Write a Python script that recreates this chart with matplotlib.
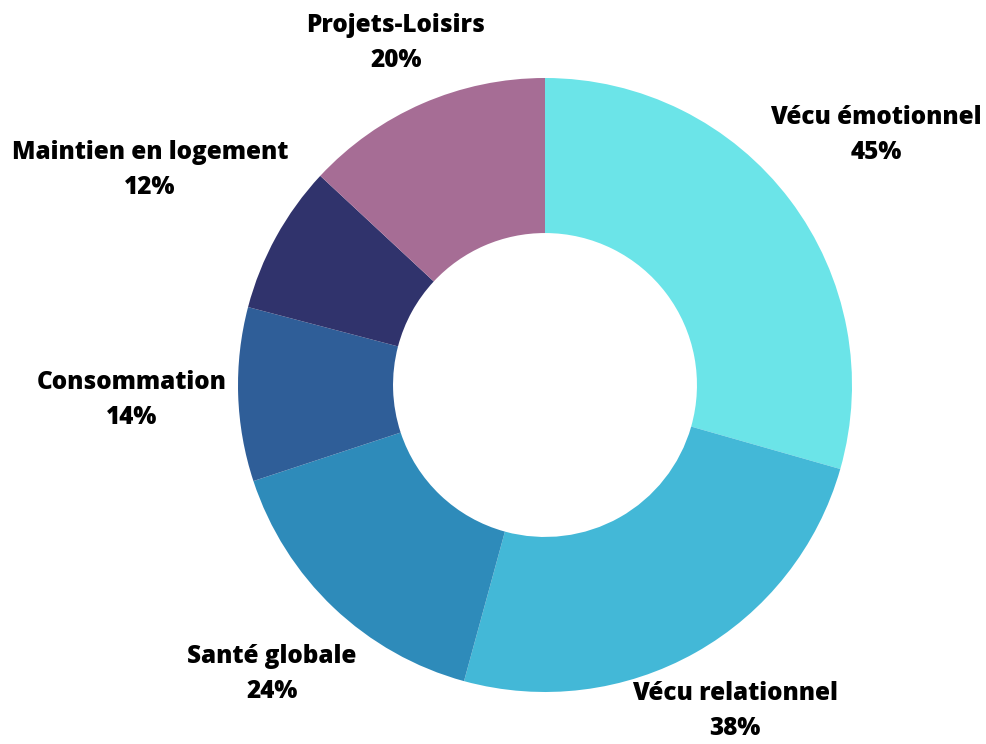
import matplotlib.pyplot as plt

# Slice data, clockwise from 12 o'clock
categories = [
    "Vécu émotionnel",
    "Vécu relationnel",
    "Santé globale",
    "Consommation",
    "Maintien en logement",
    "Projets-Loisirs",
]
values = [45, 38, 24, 14, 12, 20]
pct_labels = ["45%", "38%", "24%", "14%", "12%", "20%"]
colors = ["#6BE4E8", "#43B8D7", "#2E8BBA", "#2F5E98", "#30336C", "#A66D95"]

# label centres in pixel coordinates (x, y from top)
label_pos = [(876, 135), (735, 711), (272, 674), (132, 400), (150, 170), (396, 43)]

W, H = 987, 744
CX, CY, R = 545, 385, 307

fig = plt.figure(figsize=(W / 100, H / 100), dpi=100)
ax = fig.add_axes([(CX - R) / W, (H - CY - R) / H, 2 * R / W, 2 * R / H])
ax.pie(
    values,
    colors=colors,
    startangle=90,
    counterclock=False,
    radius=1.0,
    wedgeprops={"width": 0.505, "linewidth": 0},
)
ax.set_xlim(-1, 1)
ax.set_ylim(-1, 1)
ax.set_aspect("equal")
ax.axis("off")

for cat, pct, (px, py) in zip(categories, pct_labels, label_pos):
    fig.text(
        px / W,
        1 - py / H,
        f"{cat}\n{pct}",
        ha="center",
        va="center",
        fontsize=17.5,
        fontweight="heavy",
        family=["Open Sans", "DejaVu Sans"],
        linespacing=1.55,
        color="black",
    )

fig.savefig("out.png", dpi=100, facecolor="white")
